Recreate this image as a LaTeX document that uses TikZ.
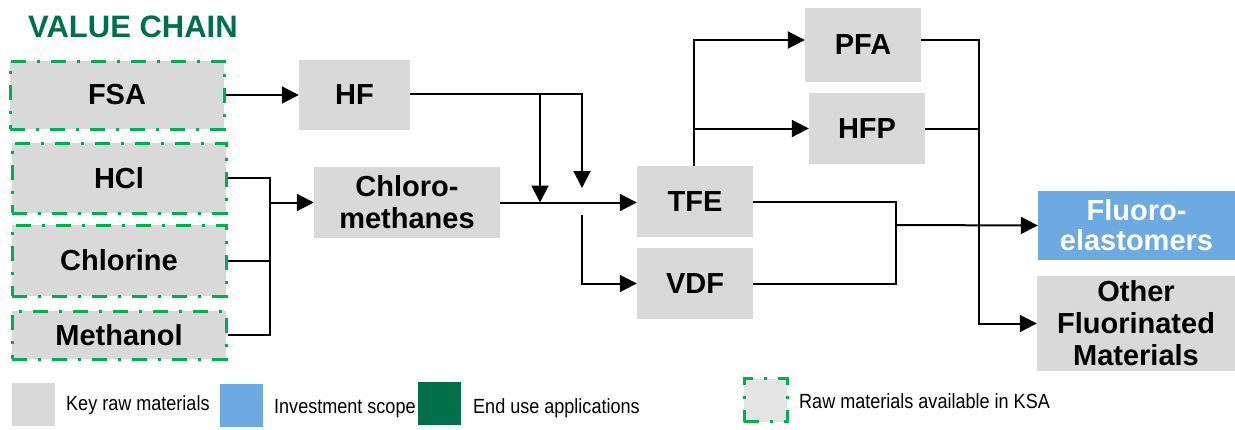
\documentclass[tikz,border=0pt]{standalone}
\usepackage{fontspec}
\setmainfont{Liberation Sans}
\newfontfamily\legendfont[FakeStretch=0.88]{Liberation Sans}
\usetikzlibrary{arrows.meta}
\definecolor{boxgray}{HTML}{D9D9D9}
\definecolor{scopeblue}{HTML}{6DAAE1}
\definecolor{enduse}{HTML}{00704A}
\definecolor{ksagreen}{HTML}{00B050}
\definecolor{ksafill}{HTML}{E4E4E4}
\begin{document}
\begin{tikzpicture}[x=1pt,y=-1pt,
  box/.style={fill=boxgray, inner sep=0pt, align=center,
    font=\bfseries\fontsize{29}{32}\selectfont},
  ksa/.style={box, draw=ksagreen, line width=3pt,
    dash pattern=on 15pt off 11pt on 3pt off 11pt},
  link/.style={line width=2pt},
  flow/.style={link, -{Triangle[length=17pt,width=17pt]}},
  legendbox/.style={minimum width=43pt, minimum height=43pt, inner sep=0pt},
  legendtext/.style={anchor=base west, inner sep=0pt,
    font=\legendfont\fontsize{20.5}{24}\selectfont},
]
\useasboundingbox (0,0) rectangle (1235,429);

% title
\node[anchor=base west, inner sep=0pt, text=enduse,
  font=\bfseries\fontsize{31}{34}\selectfont] (title) at (28,37) {VALUE CHAIN};

% raw materials available in KSA
\node[ksa, minimum width=214pt, minimum height=68pt] (fsa) at (117,95) {FSA};
\node[ksa, minimum width=214pt, minimum height=70pt] (hcl) at (119,178) {HCl};
\node[ksa, minimum width=214pt, minimum height=71pt] (chlorine) at (119,260.5) {Chlorine};
\node[ksa, minimum width=214pt, minimum height=48pt] (methanol) at (119,335) {Methanol};

% intermediates
\node[box, minimum width=111pt, minimum height=70pt] (hf) at (354.5,95) {HF};
\node[box, minimum width=186pt, minimum height=71pt] (chm) at (407,202.5) {Chloro-\\methanes};
\node[box, minimum width=116pt, minimum height=71pt] (tfe) at (695,201.5) {TFE};
\node[box, minimum width=116pt, minimum height=71pt] (vdf) at (695,283.5) {VDF};
\node[box, minimum width=116pt, minimum height=74pt] (pfa) at (863,45) {PFA};
\node[box, minimum width=116pt, minimum height=71pt] (hfp) at (867,128.5) {HFP};

% outputs
\node[box, fill=scopeblue, text=white, minimum width=197pt, minimum height=69pt,
  font=\bfseries\fontsize{29}{30}\selectfont]
  (fluoro) at (1136.5,225.5) {Fluoro-\\elastomers};
\node[box, minimum width=198pt, minimum height=95pt]
  (other) at (1136,323.5) {Other\\Fluorinated\\Materials};

% junction points
\coordinate (hfa) at (540,94);
\coordinate (hfb) at (582,188);
\coordinate (vdfin) at (582,215);
\coordinate (rawbus) at (270,202.5);
\coordinate (tfeup) at (694,166);
\coordinate (outbus) at (979,50);
\coordinate (elbus) at (896,225);

% FSA -> HF
\draw[flow] (fsa.east) -- (hf.west);

% HF feeds
\draw[flow] (hf.east |- hfa) -| (hfb);
\draw[flow] (hfa) -- (hfa |- chm.east);

% raw materials -> chloromethanes
\draw[link] (hcl.east) -| (rawbus |- methanol.east) -- (methanol.east);
\draw[link] (chlorine.east) -- (rawbus |- chlorine.east);
\draw[flow] (rawbus) -- (chm.west);

% chloromethanes -> TFE / VDF
\draw[flow] (chm.east) -- (tfe.west |- chm.east);
\draw[flow] (vdfin) |- (vdf.west);

% TFE -> PFA / HFP
\draw[flow] (tfeup) |- ([yshift=5pt]pfa.west);
\draw[flow] (tfeup |- hfp.west) -- (hfp.west);

% PFA / HFP -> other fluorinated materials
\draw[flow] ([yshift=5pt]pfa.east) -| (outbus |- other.west) -- (other.west);
\draw[link] (hfp.east) -- (outbus |- hfp.east);

% TFE / VDF -> fluoroelastomers
\draw[link] (tfe.east) -| (elbus |- vdf.east) -- (vdf.east);
\draw[flow] (elbus) -- (fluoro.west);

% legend
\node[legendbox, fill=boxgray] (lg1) at (33,404.5) {};
\node[legendtext] (lt1) at (66,410) {Key raw materials};
\node[legendbox, fill=scopeblue] (lg2) at (241.5,405.5) {};
\node[legendtext] (lt2) at (274,413) {Investment scope};
\node[legendbox, fill=enduse] (lg3) at (439.5,403.5) {};
\node[legendtext] (lt3) at (473,413) {End use applications};
\node[legendbox, fill=ksafill, draw=ksagreen, line width=3pt,
  dash pattern=on 15pt off 11pt on 3pt off 11pt] (lg4) at (765.5,400) {};
\node[legendtext] (lt4) at (799,408) {Raw materials available in KSA};
\end{tikzpicture}
\end{document}
